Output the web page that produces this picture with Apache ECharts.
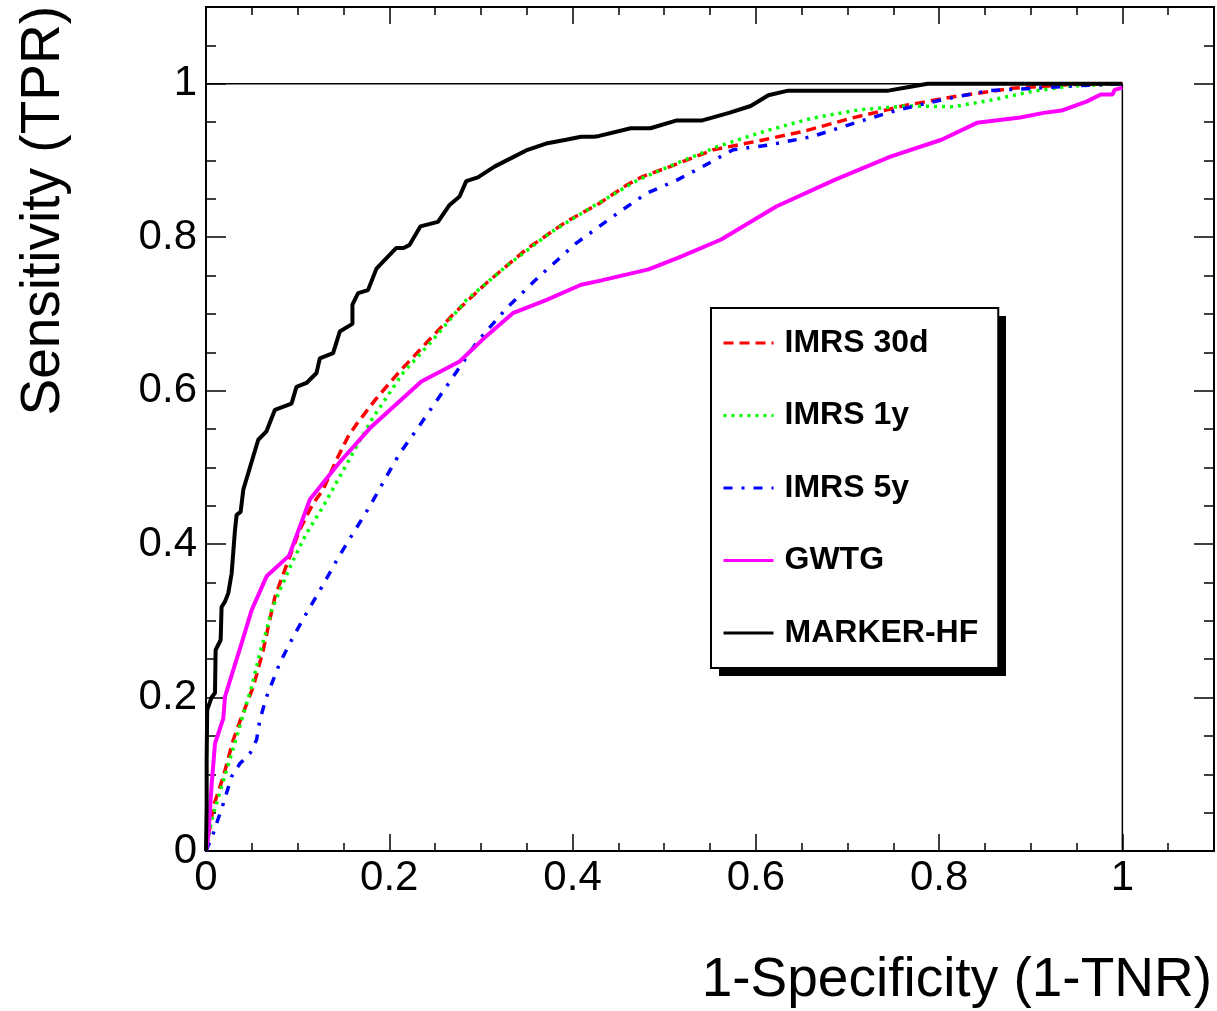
<!DOCTYPE html>
<html>
<head>
<meta charset="utf-8">
<script src="https://cdn.jsdelivr.net/npm/echarts@6/dist/echarts.min.js"></script>
<style>html,body{margin:0;padding:0;background:#fff}#c{width:1217px;height:1011px}</style>
</head>
<body>
<div id="c"></div>
<script>
// ---- data (x = 1-Specificity, y = Sensitivity) ----
const seriesNames = ['IMRS 30d', 'IMRS 1y', 'IMRS 5y', 'GWTG', 'MARKER-HF'];
const xTitle = '1-Specificity (1-TNR)';
const yTitle = 'Sensitivity (TPR)';
const majorTicks = [0, 0.2, 0.4, 0.6, 0.8, 1];

const imrs30d = [[0,0],[0.008,0.058],[0.0189,0.097],[0.0298,0.145],[0.0389,0.175],[0.0516,0.214],[0.0625,0.262],[0.0679,0.292],[0.0752,0.331],[0.0824,0.355],[0.0915,0.384],[0.1024,0.419],[0.1169,0.453],[0.1278,0.471],[0.1424,0.51],[0.155,0.54],[0.1641,0.556],[0.186,0.59],[0.2113,0.625],[0.2404,0.662],[0.2694,0.699],[0.3058,0.74],[0.3493,0.784],[0.3929,0.82],[0.4292,0.844],[0.4592,0.868],[0.4764,0.879],[0.5064,0.892],[0.5537,0.914],[0.6009,0.925],[0.6524,0.938],[0.7039,0.955],[0.764,0.972],[0.8155,0.983],[0.8798,0.994],[0.9442,0.999],[1,1]];

const imrs1y = [[0,0],[0.006,0.04],[0.017,0.084],[0.028,0.127],[0.0389,0.171],[0.0498,0.214],[0.0588,0.258],[0.0661,0.288],[0.0716,0.314],[0.0806,0.34],[0.0951,0.379],[0.1097,0.414],[0.1278,0.449],[0.146,0.488],[0.1641,0.527],[0.1823,0.565],[0.2149,0.623],[0.2476,0.666],[0.284,0.718],[0.3276,0.762],[0.3747,0.805],[0.4219,0.84],[0.4721,0.875],[0.515,0.897],[0.558,0.918],[0.6095,0.938],[0.661,0.955],[0.7124,0.966],[0.764,0.971],[0.8155,0.97],[0.8584,0.979],[0.9013,0.99],[0.9442,0.997],[1,1]];

const imrs5y = [[0,0],[0.008,0.023],[0.0189,0.062],[0.028,0.097],[0.037,0.114],[0.0479,0.127],[0.0552,0.145],[0.0588,0.171],[0.0661,0.201],[0.0806,0.245],[0.0951,0.279],[0.1097,0.31],[0.1278,0.347],[0.1441,0.382],[0.1605,0.414],[0.1786,0.449],[0.195,0.484],[0.2113,0.518],[0.2304,0.55],[0.2622,0.605],[0.2949,0.662],[0.3276,0.707],[0.3638,0.749],[0.4038,0.792],[0.4292,0.814],[0.4549,0.836],[0.4807,0.857],[0.515,0.875],[0.5451,0.894],[0.5752,0.914],[0.6137,0.92],[0.661,0.931],[0.7082,0.949],[0.7555,0.966],[0.8026,0.979],[0.8542,0.991],[0.9013,0.994],[0.9442,0.997],[1,1]];

const gwtg = [[0,0],[0.0025,0.019],[0.006,0.084],[0.0098,0.14],[0.0189,0.173],[0.0207,0.201],[0.0298,0.236],[0.0389,0.271],[0.0498,0.314],[0.0661,0.358],[0.0907,0.385],[0.1133,0.458],[0.146,0.507],[0.1805,0.553],[0.235,0.612],[0.2767,0.638],[0.3058,0.671],[0.3348,0.701],[0.3711,0.718],[0.4093,0.738],[0.4292,0.743],[0.4829,0.758],[0.515,0.773],[0.5622,0.797],[0.6223,0.84],[0.6867,0.875],[0.7469,0.905],[0.8026,0.927],[0.8413,0.949],[0.8885,0.956],[0.9142,0.962],[0.9336,0.965],[0.9614,0.977],[0.9764,0.986],[0.9893,0.986],[0.9915,0.992],[1,0.995]];

const markerHF = [[0,0],[0.0007,0.06],[0.0007,0.119],[0.0013,0.184],[0.006,0.2],[0.0098,0.206],[0.0105,0.262],[0.016,0.275],[0.017,0.318],[0.0207,0.325],[0.0243,0.336],[0.028,0.362],[0.0316,0.418],[0.0334,0.438],[0.0378,0.442],[0.0407,0.471],[0.057,0.536],[0.066,0.547],[0.0752,0.575],[0.0933,0.583],[0.0988,0.605],[0.1097,0.61],[0.1206,0.623],[0.1242,0.642],[0.1387,0.649],[0.146,0.677],[0.1598,0.687],[0.1598,0.712],[0.166,0.727],[0.1768,0.731],[0.186,0.759],[0.2077,0.786],[0.2157,0.786],[0.2222,0.79],[0.2339,0.814],[0.2531,0.82],[0.2658,0.842],[0.2767,0.853],[0.284,0.873],[0.2967,0.878],[0.3148,0.892],[0.333,0.903],[0.3493,0.913],[0.3711,0.922],[0.3929,0.927],[0.4093,0.931],[0.4237,0.931],[0.4292,0.932],[0.4635,0.942],[0.485,0.942],[0.5129,0.952],[0.5407,0.952],[0.5708,0.962],[0.5944,0.971],[0.6137,0.985],[0.6352,0.991],[0.7447,0.991],[0.764,0.995],[0.7876,1],[1,1]];

// frame of the unit square drawn in the plot (y=1 line and x=1 line)
const unitFrame = [[0,1],[1,1],[1,0]];

// ---- chart ----
const FONT = 'Liberation Sans, Arial, Helvetica, sans-serif';
const chart = echarts.init(document.getElementById('c'), null, {renderer: 'canvas'});

function fmt(v) {
  for (const t of majorTicks) if (Math.abs(v - t) < 1e-6) return String(t);
  return '';
}
function axis(kind, pos, major) {
  const isX = kind === 'x';
  return {
    type: 'value', position: pos, min: 0, max: 1.1,
    interval: major ? 0.2 : 0.05,
    axisLine: {show: false, onZero: false},
    splitLine: {show: false},
    axisTick: {show: true, inside: true,
      length: major ? (isX ? 17 : 20) : (isX ? 8 : 10),
      lineStyle: {color: '#000', width: 1.5}},
    axisLabel: {
      show: major && (pos === 'bottom' || pos === 'left'),
      formatter: fmt, color: '#000', fontFamily: FONT, fontSize: 42,
      margin: isX ? 6 : 9
    }
  };
}

const styles = [
  {color: '#ff0000', type: [10, 6], width: 3.5},
  {color: '#00ff00', type: [3, 5], width: 3.5},
  {color: '#0000ff', type: [9, 9, 3, 9], width: 3.5},
  {color: '#ff00ff', type: 'solid', width: 4},
  {color: '#000000', type: 'solid', width: 4}
];
const datasets = [imrs30d, imrs1y, imrs5y, gwtg, markerHF];

const series = [{
  name: 'frame', type: 'line', data: unitFrame, symbol: 'none', silent: true,
  lineStyle: {color: '#000', width: 1.5}, z: 1
}].concat(seriesNames.map((n, i) => ({
  name: n, type: 'line', data: datasets[i], symbol: 'none', showSymbol: false,
  smooth: false, lineStyle: styles[i], itemStyle: {color: styles[i].color}, z: 2 + i
})));

chart.setOption({
  animation: false,
  backgroundColor: '#fff',
  grid: {left: 206, top: 7, right: 1.2, bottom: 160, show: true,
         borderColor: '#000', borderWidth: 2, backgroundColor: 'transparent'},
  xAxis: [axis('x', 'bottom', true), axis('x', 'bottom', false), axis('x', 'top', true), axis('x', 'top', false)],
  yAxis: [axis('y', 'left', true), axis('y', 'left', false), axis('y', 'right', true), axis('y', 'right', false)],
  legend: {
    data: seriesNames, orient: 'vertical', left: 711, top: 308, z: 10,
    itemWidth: 50, itemHeight: 14, itemGap: 36.5,
    padding: [17, 20, 17, 11],
    backgroundColor: '#fff', borderColor: '#000', borderWidth: 2,
    itemStyle: {opacity: 0},
    lineStyle: {width: 3},
    textStyle: {fontFamily: FONT, fontWeight: 'bold', fontSize: 32, lineHeight: 36,
                color: '#000', padding: [0, 0, 0, 6]},
    selectedMode: false
  },
  graphic: [
    {type: 'rect', z: 5, silent: true, shape: {x: 719, y: 316, width: 287, height: 360},
      style: {fill: '#000'}},
    {type: 'text', style: {text: xTitle, x: 1212, y: 981, textAlign: 'right', textVerticalAlign: 'middle',
      font: '55px ' + FONT, fill: '#000'}},
    {type: 'text', rotation: Math.PI / 2, x: 44, y: 6,
      style: {text: yTitle, x: 0, y: 0, textAlign: 'right', textVerticalAlign: 'middle',
      font: '55px ' + FONT, fill: '#000'}}
  ],
  series: series
});
</script>
</body>
</html>
